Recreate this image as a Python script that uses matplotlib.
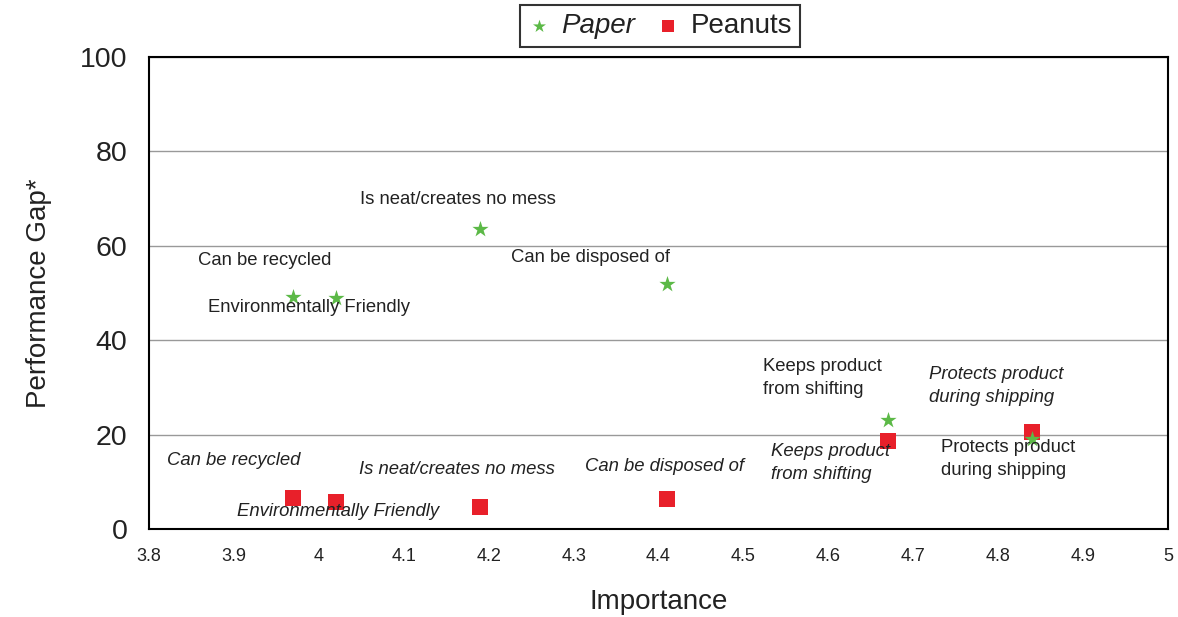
import matplotlib
matplotlib.use("Agg")
import matplotlib.pyplot as plt

plt.rcParams['font.family'] = ['Liberation Sans', 'DejaVu Sans']

importance = [3.97, 4.02, 4.19, 4.41, 4.67, 4.84]
paper_gap = [49.2, 49.0, 63.5, 52.0, 23.0, 19.0]
peanuts_gap = [6.5, 5.7, 4.7, 6.3, 18.6, 20.5]

paper_labels = ["Can be recycled", "Environmentally Friendly", "Is neat/creates no mess",
                "Can be disposed of", "Keeps product\nfrom shifting", "Protects product\nduring shipping"]
paper_label_pos = [(3.858, 56.8), (3.869, 47.0), (4.049, 69.9), (4.226, 57.6), (4.523, 32.0), (4.733, 14.8)]
peanut_labels = ["Can be recycled", "Environmentally Friendly", "Is neat/creates no mess",
                 "Can be disposed of", "Keeps product\nfrom shifting", "Protects product\nduring shipping"]
peanut_label_pos = [(3.821, 14.6), (3.904, 3.8), (4.047, 12.5), (4.314, 13.3), (4.533, 14.0), (4.718, 30.3)]

xticks = [3.8, 3.9, 4.0, 4.1, 4.2, 4.3, 4.4, 4.5, 4.6, 4.7, 4.8, 4.9, 5.0]
xticklabels = ["3.8", "3.9", "4", "4.1", "4.2", "4.3", "4.4", "4.5", "4.6", "4.7", "4.8", "4.9", "5"]
yticks = [0, 20, 40, 60, 80, 100]

fig = plt.figure(figsize=(11.78, 6.17), dpi=100)
ax = fig.add_axes([149/1178, 1 - 529/617, (1168-149)/1178, (529-57)/617])

txtc = '#222222'
ax.scatter(importance, peanuts_gap, marker='s', s=120, color='#e8202a', zorder=3, label='Peanuts', linewidths=0)
ax.scatter(importance, paper_gap, marker='*', s=150, color='#5cb947', zorder=4, label='Paper', linewidths=0)

for lab, (x, y) in zip(paper_labels, paper_label_pos):
    ax.text(x, y, lab, ha='left', va='center', fontsize=13.3, color=txtc, linespacing=1.42, zorder=5)
for lab, (x, y) in zip(peanut_labels, peanut_label_pos):
    ax.text(x, y, lab, ha='left', va='center', fontsize=13.3, color=txtc, style='italic', linespacing=1.42, zorder=5)

ax.set_xlim(3.8, 5.0)
ax.set_ylim(0, 100)
ax.set_xticks(xticks)
ax.set_xticklabels(xticklabels)
ax.set_yticks(yticks)
ax.tick_params(axis='x', length=0, pad=14, labelsize=13, labelcolor=txtc)
ax.tick_params(axis='y', length=0, pad=15.5, labelsize=20.5, labelcolor=txtc)
ax.yaxis.grid(True, color='#999999', linewidth=1)
ax.set_axisbelow(True)
for sp in ax.spines.values():
    sp.set_color('black')
    sp.set_linewidth(1.5)

ax.set_xlabel('Importance', fontsize=20, color=txtc, labelpad=17)
ax.set_ylabel('Performance Gap*', fontsize=20, color=txtc, labelpad=20)

handles, labels = ax.get_legend_handles_labels()
leg = fig.legend(handles[::-1], labels[::-1], loc='center', bbox_to_anchor=(660/1178, 1 - 26/617), ncol=2,
                 frameon=True, fontsize=20, handlelength=0.8, handletextpad=0.4, columnspacing=0.8,
                 borderpad=0.3, fancybox=False, markerscale=0.8)
leg.get_frame().set_edgecolor('black')
leg.get_frame().set_linewidth(1.5)
leg.get_texts()[0].set_style('italic')
for t in leg.get_texts():
    t.set_color(txtc)

fig.savefig('out.png', dpi=100)
